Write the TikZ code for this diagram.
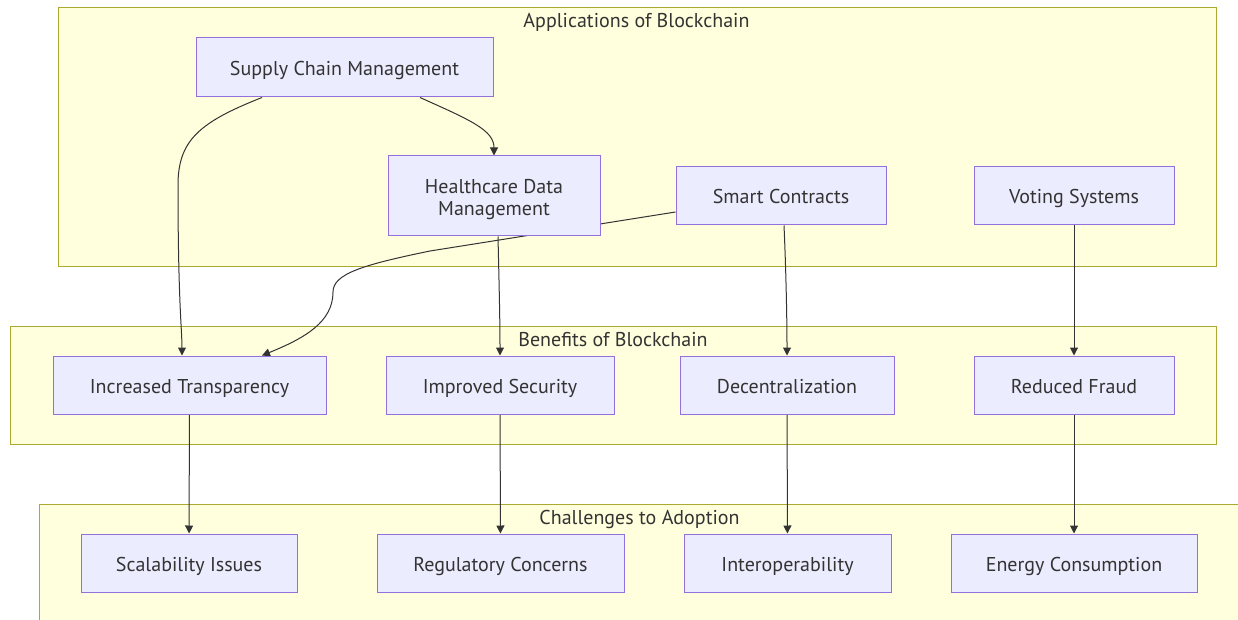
\documentclass[tikz,border=0pt]{standalone}
\usepackage{fontspec}
\setmainfont{PT Sans}
\usetikzlibrary{arrows.meta,calc}
\definecolor{clfill}{HTML}{FFFFDE}
\definecolor{clline}{HTML}{AAAA33}
\definecolor{ndfill}{HTML}{ECECFF}
\definecolor{ndline}{HTML}{9370DB}
\definecolor{ink}{HTML}{333333}
\pgfdeclarelayer{groups}
\pgfdeclarelayer{links}
\pgfsetlayers{groups,links,main}
\tikzset{
  box/.style={draw=ndline, fill=ndfill, line width=1pt, text=ink, align=center,
    inner sep=0pt, font=\fontsize{20}{22}\selectfont},
  oneline/.style={text height=19pt, text depth=3pt},
  group/.style={draw=clline, fill=clfill, line width=1pt},
  grouptitle/.style={text=ink, font=\fontsize{20}{22}\selectfont, inner sep=0pt, anchor=base},
  link/.style={draw=ink, line width=1pt, -{Triangle[length=8pt,width=8pt]}}
}
\begin{document}
\begin{tikzpicture}[x=1pt,y=-1pt]
\useasboundingbox (0,0) rectangle (1238,620);
\clip (0,0) rectangle (1238,620);

% boxes: centre, width, height
\node[box, oneline, minimum width=297pt, minimum height=59pt] (scm) at (344.5,67.5) {Supply Chain Management};
\node[box, minimum width=212pt, minimum height=80pt] (hdm) at (494,196) {\rule{0pt}{21pt}Healthcare Data\\Management};
\node[box, oneline, minimum width=210pt, minimum height=58pt] (sc)  at (781,196) {Smart Contracts};
\node[box, oneline, minimum width=200pt, minimum height=58pt] (vs)  at (1074,196) {Voting Systems};

\node[box, oneline, minimum width=273pt, minimum height=58pt] (it)  at (189.5,385) {Increased Transparency};
\node[box, oneline, minimum width=228pt, minimum height=58pt] (is)  at (500,385) {Improved Security};
\node[box, oneline, minimum width=214pt, minimum height=58pt] (dec) at (787,385) {Decentralization};
\node[box, oneline, minimum width=200pt, minimum height=58pt] (rf)  at (1074,385) {Reduced Fraud};

\node[box, oneline, minimum width=216pt, minimum height=58pt] (si)  at (189,563) {Scalability Issues};
\node[box, oneline, minimum width=247pt, minimum height=58pt] (rc)  at (500.5,563) {Regulatory Concerns};
\node[box, oneline, minimum width=207pt, minimum height=58pt] (io)  at (787.5,563) {Interoperability};
\node[box, oneline, minimum width=246pt, minimum height=58pt] (ec)  at (1074,563) {Energy Consumption};

% group frames and their titles
\begin{pgfonlayer}{groups}
  \path[group] (58,8) rectangle (1216,266);
  \path[group] (10,326) rectangle (1216,444);
  \path[group] (39,504) rectangle (1240,622);
\end{pgfonlayer}
\node[grouptitle] (tapp) at (636.5,28) {Applications of Blockchain};
\node[grouptitle] (tben) at (613,346) {Benefits of Blockchain};
\node[grouptitle] (tcha) at (639.5,524) {Challenges to Adoption};

% connectors
\begin{pgfonlayer}{links}
  \draw[link] ([xshift=-82.5pt]scm.south) .. controls (200,122) and (178,140) .. (178,185)
      .. controls (178,300) and (182,330) .. ([xshift=-7.5pt]it.north);
  \draw[link] ([xshift=75.5pt]scm.south) .. controls (470,120) and (494,130) .. (hdm.north);
  \draw[link] ([yshift=-16pt]sc.west) -- (430,251)
      .. controls (362,265) and (333,274) .. (333,292)
      .. controls (333,322) and (305,338) .. ([xshift=72.5pt]it.north);
  \draw[link] ([xshift=4pt]hdm.south) .. controls (499,280) and (500,320) .. (is.north);
  \draw[link] ([xshift=3pt]sc.south) .. controls (786,270) and (787,320) .. (dec.north);
  \draw[link] (vs) -- (rf);
  \draw[link] (it) -- (si);
  \draw[link] (is) -- (rc);
  \draw[link] (dec) -- (io);
  \draw[link] (rf) -- (ec);
\end{pgfonlayer}
\end{tikzpicture}
\end{document}
